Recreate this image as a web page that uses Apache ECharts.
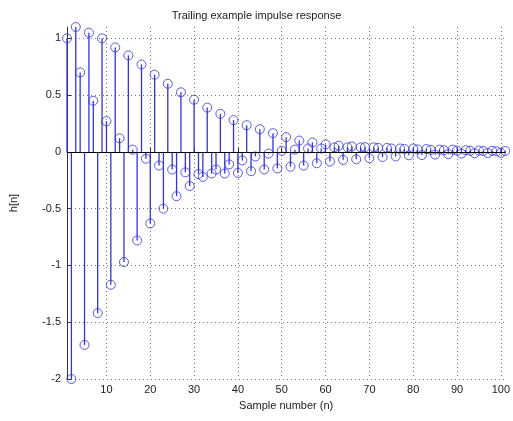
<!DOCTYPE html>
<html>
<head>
<meta charset="utf-8">
<script src="https://cdn.jsdelivr.net/npm/echarts@6/dist/echarts.min.js"></script>
<style>
  html, body { margin: 0; padding: 0; background: #fff; }
  #chart { width: 513px; height: 421px; }
</style>
</head>
<body>
<div id="chart"></div>
<script>
// h[n] for n = 1..101
var h = [
  1.00, -2.00, 1.10, 0.70, -1.70, 1.05, 0.45, -1.42, 1.00, 0.27,
  -1.17, 0.92, 0.12, -0.97, 0.85, 0.02, -0.78, 0.77, -0.06, -0.63,
  0.68, -0.12, -0.50, 0.60, -0.155, -0.39, 0.525, -0.18, -0.30, 0.46,
  -0.195, -0.22, 0.39, -0.19, -0.155, 0.335, -0.19, -0.11, 0.28, -0.185,
  -0.075, 0.235, -0.17, -0.04, 0.20, -0.155, -0.015, 0.165, -0.145, 0.01,
  0.13, -0.13, 0.02, 0.10, -0.12, 0.03, 0.083, -0.10, 0.03, 0.066,
  -0.085, 0.04, 0.055, -0.07, 0.04, 0.048, -0.065, 0.04, 0.042, -0.055,
  0.04, 0.036, -0.045, 0.035, 0.03, -0.04, 0.03, 0.026, -0.03, 0.03,
  0.022, -0.028, 0.025, 0.018, -0.024, 0.02, 0.015, -0.02, 0.02, 0.012,
  -0.015, 0.015, 0.01, -0.012, 0.012, 0.008, -0.01, 0.01, 0.006, -0.008,
  0.008
];
var xTicks = [10, 20, 30, 40, 50, 60, 70, 80, 90, 100];
var yTicks = [-2, -1.5, -1, -0.5, 0, 0.5, 1];

var points = h.map(function (v, i) { return [i + 1, v]; });
var stemColor = '#3434dc';

// vertical stem from the zero line to the sample value
function renderStem(params, api) {
  var base = api.coord([api.value(0), 0]);
  var top = api.coord([api.value(0), api.value(1)]);
  return {
    type: 'line',
    shape: { x1: base[0], y1: base[1], x2: top[0], y2: top[1] },
    style: { stroke: stemColor, lineWidth: 1.3 }
  };
}

var chart = echarts.init(document.getElementById('chart'));
var option = {
  backgroundColor: '#fff',
  animation: false,
  textStyle: { fontFamily: 'Liberation Sans, Arial, sans-serif' },
  title: {
    text: 'Trailing example impulse response',
    left: 'center',
    top: 5,
    textStyle: { fontSize: 11, fontWeight: 'normal', color: '#222' }
  },
  grid: { left: 63, right: 5, top: 27, bottom: 42 },
  xAxis: {
    type: 'value',
    min: 1,
    max: 101,
    name: 'Sample number (n)',
    nameLocation: 'middle',
    nameGap: 21,
    nameTextStyle: { fontSize: 11, color: '#222' },
    axisLine: { lineStyle: { color: '#333' } },
    axisTick: { inside: true, length: 4, customValues: xTicks, lineStyle: { color: '#333' } },
    axisLabel: { customValues: xTicks, fontSize: 11, color: '#222', margin: 5 },
    splitLine: { show: true, lineStyle: { type: [1, 3], color: '#777' } }
  },
  yAxis: {
    type: 'value',
    min: -2,
    max: 1.1,
    name: 'h[n]',
    nameLocation: 'middle',
    nameGap: 48,
    nameTextStyle: { fontSize: 11, color: '#222' },
    axisLine: { show: true, lineStyle: { color: '#333' } },
    axisTick: { show: true, inside: true, length: 4, customValues: yTicks, lineStyle: { color: '#333' } },
    axisLabel: { customValues: yTicks, fontSize: 11, color: '#222', margin: 6 },
    splitLine: { show: true, lineStyle: { type: [1, 3], color: '#777' } }
  },
  series: [
    {
      type: 'custom',
      data: points,
      renderItem: renderStem,
      clip: false,
      markLine: {
        silent: true,
        symbol: 'none',
        label: { show: false },
        lineStyle: { color: '#000', width: 1, type: 'solid' },
        data: [{ yAxis: 0 }]
      }
    },
    {
      type: 'scatter',
      data: points,
      symbol: 'circle',
      symbolSize: 9,
      clip: false,
      itemStyle: { color: 'rgba(0,0,0,0)', borderColor: stemColor, borderWidth: 1 }
    }
  ]
};
chart.setOption(option);
</script>
</body>
</html>
